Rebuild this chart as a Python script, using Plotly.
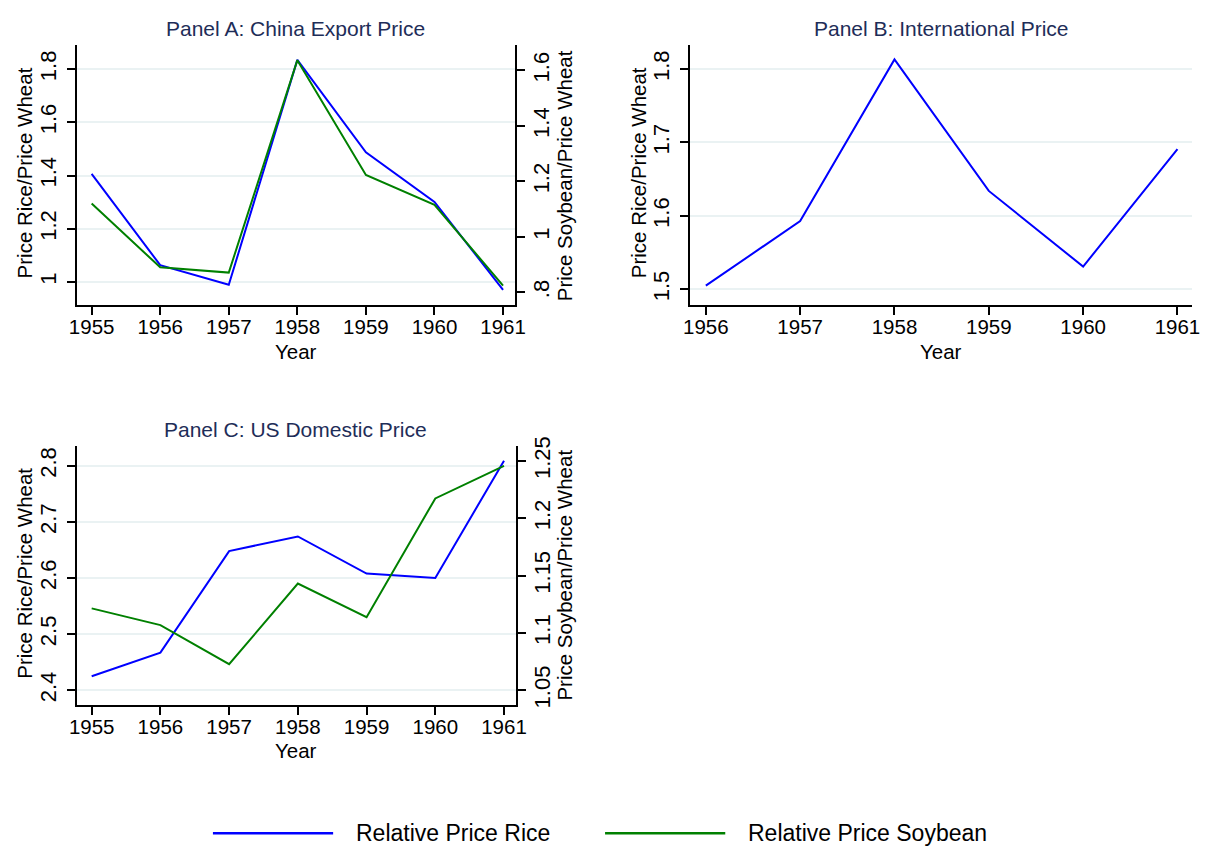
import plotly.graph_objects as go

# data
years_a = [1955, 1956, 1957, 1958, 1959, 1960, 1961]
rice_china = [1.406, 1.063, 0.989, 1.835, 1.487, 1.301, 0.970]
soy_china = [1.120, 0.890, 0.871, 1.637, 1.223, 1.115, 0.824]

years_b = [1956, 1957, 1958, 1959, 1960, 1961]
rice_intl = [1.505, 1.593, 1.813, 1.634, 1.531, 1.691]

years_c = [1955, 1956, 1957, 1958, 1959, 1960, 1961]
rice_us = [2.425, 2.467, 2.648, 2.674, 2.608, 2.600, 2.809]
soy_us = [1.1214, 1.1068, 1.0727, 1.143, 1.1137, 1.2173, 1.2457]

ticks_a_left = [1, 1.2, 1.4, 1.6, 1.8]
ticks_a_right = [0.8, 1, 1.2, 1.4, 1.6]
ticks_b = [1.5, 1.6, 1.7, 1.8]
ticks_c_left = [2.4, 2.5, 2.6, 2.7, 2.8]
ticks_c_right = [1.05, 1.1, 1.15, 1.2, 1.25]

W, H = 1220, 852
BLUE = "#0000ff"
GREEN = "#008000"
GRID = "#eaf2f3"
TITLE_COL = "#1e2d58"
FONT = "Liberation Sans, Arial, sans-serif"


def px(x):
    return x / W


def py(y):
    return 1 - y / H


def stata_label(v):
    # Stata drops the leading zero: .8 instead of 0.8
    s = f"{v:g}"
    return s[1:] if s.startswith("0.") else s


fig = go.Figure()

fig.add_trace(go.Scatter(x=years_a, y=rice_china, xaxis="x", yaxis="y",
                         mode="lines", line=dict(color=BLUE, width=2)))
fig.add_trace(go.Scatter(x=years_a, y=soy_china, xaxis="x", yaxis="y2",
                         mode="lines", line=dict(color=GREEN, width=2)))
fig.add_trace(go.Scatter(x=years_b, y=rice_intl, xaxis="x2", yaxis="y3",
                         mode="lines", line=dict(color=BLUE, width=2)))
fig.add_trace(go.Scatter(x=years_c, y=rice_us, xaxis="x3", yaxis="y4",
                         mode="lines", line=dict(color=BLUE, width=2)))
fig.add_trace(go.Scatter(x=years_c, y=soy_us, xaxis="x3", yaxis="y5",
                         mode="lines", line=dict(color=GREEN, width=2)))

common_x = dict(showline=True, linecolor="black", linewidth=1.5, ticks="outside",
                ticklen=8, tickwidth=1.5, tickcolor="black", showgrid=False,
                zeroline=False, tickfont=dict(family=FONT, size=20.5, color="black"),
                dtick=1, ticklabelstandoff=-5)
common_y = dict(showline=True, linecolor="black", linewidth=1.5, ticks="outside",
                ticklen=8, tickwidth=1.5, tickcolor="black", zeroline=False,
                tickfont=dict(family=FONT, size=22, color="black"), tickangle=-90)
left_y = dict(common_y, ticklabelstandoff=2, showgrid=True, gridcolor=GRID, gridwidth=1.5)
right_y = dict(common_y, ticklabelstandoff=-3, side="right", showgrid=False)

top_dom = [py(300), py(37)]
bot_dom = [py(706), py(443)]

fig.update_layout(
    width=W, height=H,
    margin=dict(l=0, r=0, t=0, b=0),
    paper_bgcolor="white", plot_bgcolor="white",
    showlegend=False,
    font=dict(family=FONT),
    xaxis=dict(common_x, domain=[px(70), px(515)], range=[1954.786, 1961.18], anchor="y"),
    yaxis=dict(left_y, domain=top_dom, range=[0.914, 1.889], anchor="x",
               tickvals=ticks_a_left, ticktext=[stata_label(v) for v in ticks_a_left]),
    yaxis2=dict(right_y, overlaying="y", anchor="x", range=[0.755, 1.690],
                tickvals=ticks_a_right, ticktext=[stata_label(v) for v in ticks_a_right]),
    xaxis2=dict(common_x, domain=[px(692), px(1202)], range=[1955.83, 1961.157], anchor="y3"),
    yaxis3=dict(left_y, domain=top_dom, range=[1.479, 1.832], anchor="x2",
                tickvals=ticks_b, ticktext=[stata_label(v) for v in ticks_b]),
    xaxis3=dict(common_x, domain=[px(70), px(516)], range=[1954.786, 1961.18], anchor="y4"),
    yaxis4=dict(left_y, domain=bot_dom, range=[2.3736, 2.8357], anchor="x3",
                tickvals=ticks_c_left, ticktext=[stata_label(v) for v in ticks_c_left]),
    yaxis5=dict(right_y, overlaying="y4", anchor="x3", range=[1.0371, 1.2632],
                tickvals=ticks_c_right, ticktext=[stata_label(v) for v in ticks_c_right]),
)

# titles and axis labels
text_font = dict(family=FONT, size=20.5, color="black")
title_font = dict(family=FONT, size=21, color=TITLE_COL)
notes = [
    ("Panel A: China Export Price", 292, 20, 0, title_font),
    ("Panel B: International Price", 947, 20, 0, title_font),
    ("Panel C: US Domestic Price", 292, 426, 0, title_font),
    ("Year", 292, 347, 0, text_font),
    ("Year", 947, 347, 0, text_font),
    ("Year", 292, 752, 0, text_font),
    ("Price Rice/Price Wheat", 17, 166, -90, text_font),
    ("Price Soybean/Price Wheat", 565, 169, -90, text_font),
    ("Price Rice/Price Wheat", 640, 166, -90, text_font),
    ("Price Rice/Price Wheat", 17, 572, -90, text_font),
    ("Price Soybean/Price Wheat", 565, 574, -90, text_font),
]
for txt, x, y, ang, f in notes:
    fig.add_annotation(text=txt, x=px(x), y=py(y), xref="paper", yref="paper",
                       showarrow=False, textangle=ang, font=f,
                       xanchor="center", yanchor="middle")

# legend drawn by hand to get the long line samples
legend_items = [("Relative Price Rice", BLUE, 208), ("Relative Price Soybean", GREEN, 606)]
for label, col, x0 in legend_items:
    fig.add_shape(type="line", xref="paper", yref="paper",
                  x0=px(x0), x1=px(x0 + 122), y0=py(836), y1=py(836),
                  line=dict(color=col, width=2.3))
    fig.add_annotation(text=label, x=px(x0 + 143), y=py(836), xref="paper", yref="paper",
                       showarrow=False, xanchor="left", yanchor="middle",
                       font=dict(family=FONT, size=23, color="black"))

# drop the default body margin so the figure fills the window exactly
fig.write_html("out.html", config={"displayModeBar": False},
               post_script="document.body.style.margin = '0';")
